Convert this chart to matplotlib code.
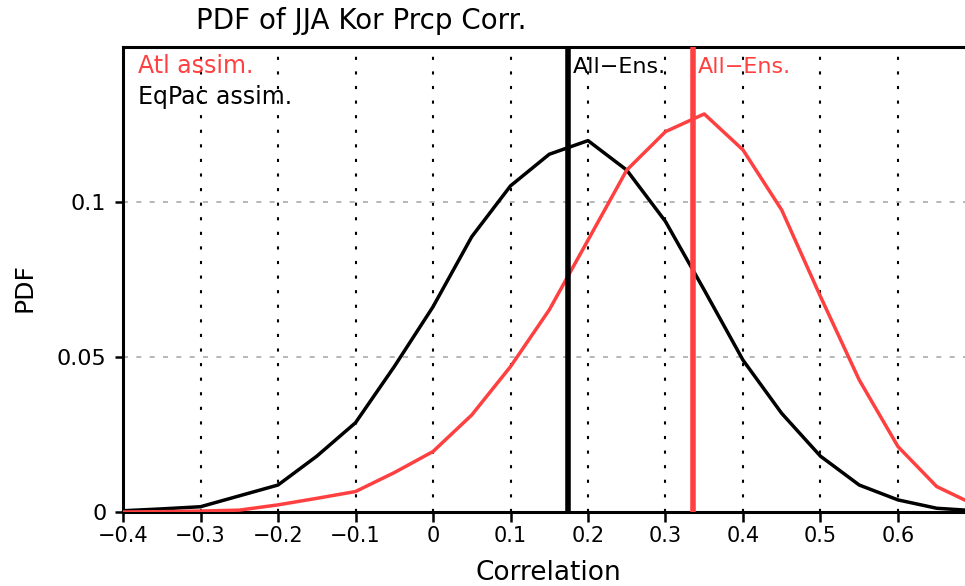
import numpy as np
import matplotlib.pyplot as plt

# correlation bins
corr = [-0.4, -0.35, -0.3, -0.25, -0.2, -0.15, -0.1, -0.05, 0.0, 0.05, 0.1, 0.15,
        0.2, 0.25, 0.3, 0.35, 0.4, 0.45, 0.5, 0.55, 0.6, 0.65, 0.7]

eqpac_pdf = [0.0004, 0.0010, 0.0017, 0.0052, 0.0087, 0.0180, 0.0288, 0.0469, 0.0662,
             0.0888, 0.1052, 0.1154, 0.1198, 0.1103, 0.0937, 0.0716, 0.0490, 0.0318,
             0.0180, 0.0087, 0.0039, 0.0012, 0.0004]
atl_pdf = [0.0000, 0.0001, 0.0003, 0.0006, 0.0023, 0.0044, 0.0066, 0.0127, 0.0195,
           0.0313, 0.0469, 0.0652, 0.0877, 0.1103, 0.1227, 0.1284, 0.1168, 0.0974,
           0.0695, 0.0426, 0.0211, 0.0082, 0.0022]

eqpac_allens = 0.174
atl_allens = 0.3355

xticks = [-0.4, -0.3, -0.2, -0.1, 0, 0.1, 0.2, 0.3, 0.4, 0.5, 0.6]
xticklabels = ['\u22120.4', '\u22120.3', '\u22120.2', '\u22120.1', '0', '0.1', '0.2',
               '0.3', '0.4', '0.5', '0.6']
yticks = [0, 0.05, 0.1]
yticklabels = ['0', '0.05', '0.1']

red = '#ff4040'

plt.rcParams['font.family'] = ['DejaVu Sans']

fig = plt.figure(figsize=(9.65, 5.86), dpi=100)
ax = fig.add_axes([0.1275, 0.1263, 0.8725, 0.7935])

# grid
for xv in xticks[1:]:
    ax.axvline(xv, color='black', lw=1.5, linestyle=(0, (1.5, 5.5)), zorder=1)
for yv in yticks:
    ax.axhline(yv, color='#aaaaaa', lw=1.2, linestyle=(0, (3, 5)), zorder=1)

ax.plot(corr, eqpac_pdf, color='black', lw=2.5, zorder=3)
ax.plot(corr, atl_pdf, color=red, lw=2.5, zorder=3)

ax.axvline(eqpac_allens, color='black', lw=4, zorder=4)
ax.axvline(atl_allens, color=red, lw=4, zorder=4)

ax.set_xlim(-0.4, 0.6865)
ax.set_ylim(0, 0.15)

ax.set_xticks(xticks)
ax.set_xticklabels(xticklabels)
ax.set_yticks(yticks)
ax.set_yticklabels(yticklabels)
ax.tick_params(axis='x', direction='out', length=7, width=1.8, labelsize=15, pad=3)
ax.tick_params(axis='y', direction='out', length=6, width=1.8, labelsize=16, pad=6)

for side in ['top', 'left', 'bottom']:
    ax.spines[side].set_linewidth(2.2)
ax.spines['right'].set_visible(False)

ax.text(eqpac_allens + 0.006, 0.1416, 'All\u2212Ens.', color='black', fontsize=16,
        va='baseline', ha='left', zorder=5)
ax.text(atl_allens + 0.006, 0.1416, 'All\u2212Ens.', color=red, fontsize=16,
        va='baseline', ha='left', zorder=5)

ax.text(0.0178, 0.1416, 'Atl assim.', color=red, fontsize=17,
        transform=ax.get_yaxis_transform(), va='baseline', ha='left')
ax.text(0.0178, 0.1316, 'EqPac assim.', color='black', fontsize=17,
        transform=ax.get_yaxis_transform(), va='baseline', ha='left')

fig.text(196 / 965, 1 - 21 / 586, 'PDF of JJA Kor Prcp Corr.', fontsize=20,
         va='center', ha='left')
fig.text(548 / 965, 1 - 573 / 586, 'Correlation', fontsize=19, va='center', ha='center')
fig.text(25 / 965, 1 - 288 / 586, 'PDF', fontsize=18, va='center', ha='center',
         rotation=90)

fig.savefig('out.png', dpi=100)
